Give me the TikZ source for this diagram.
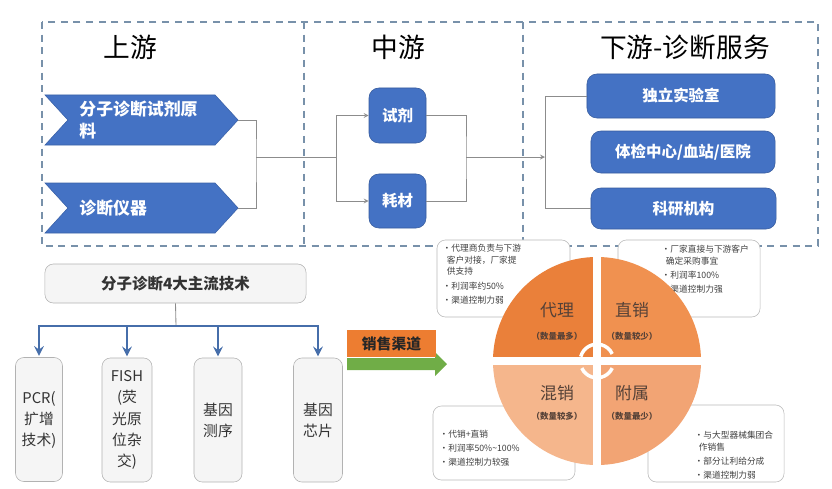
\documentclass[tikz,border=0pt]{standalone}
\usepackage{fontspec}
\setmainfont{Noto Sans CJK SC}
\usetikzlibrary{
    positioning,
    arrows.meta,
    shapes.symbols
}
\definecolor{boxBlue}{RGB}{68, 114, 196}
\definecolor{lineGray}{RGB}{140, 140, 140}
\definecolor{frameBlue}{RGB}{120, 145, 170}
\definecolor{barBlue}{RGB}{70, 110, 170}
\definecolor{salesOrange}{RGB}{237, 125, 49}
\definecolor{goGreen}{RGB}{112, 173, 71}
\definecolor{qTL}{RGB}{234, 128, 58}
\definecolor{qTR}{RGB}{240, 145, 80}
\definecolor{qBL}{RGB}{245, 182, 140}
\definecolor{qBR}{RGB}{242, 164, 116}
\definecolor{textBrown}{RGB}{85, 65, 55}

\tikzset{
    frame/.style={frameBlue, line width=1pt, dash pattern=on 5pt off 4pt},
    conn/.style={lineGray, line width=0.6pt},
    techarrow/.style={barBlue, line width=2pt, ->, shorten >=1pt},
    title/.style={font=\fontsize{19}{22}\selectfont},
    chev/.style={signal, signal to=east, signal from=west, signal pointer angle=95,
        fill=boxBlue, draw=boxBlue!85!black, minimum width=4.825cm, minimum height=1.25cm,
        text width=3.1cm, align=left, text=white, font=\bfseries\fontsize{12}{15}\selectfont},
    bluebox/.style={fill=boxBlue, draw=boxBlue!80!black, rounded corners=7pt,
        text=white, font=\bfseries\fontsize{11}{13}\selectfont},
    graybox/.style={fill=gray!8, draw=gray!60, rounded corners=6pt,
        text=black!80, font=\bfseries\fontsize{11}{13}\selectfont},
    techbox/.style={graybox, minimum height=3.1cm, align=center,
        font=\fontsize{10.5}{15}\selectfont},
    notebox/.style={fill=white, draw=gray!55, rounded corners=6pt},
    note/.style={align=left, inner sep=1pt, text=black!75,
        font=\fontsize{6.2}{8.5}\selectfont},
    qlabel/.style={text=textBrown, font=\fontsize{12}{14}\selectfont},
    qnote/.style={text=textBrown, font=\bfseries\fontsize{6}{7}\selectfont}
}

\begin{document}
\begin{tikzpicture}[x=0.025cm, y=-0.025cm, >=stealth]
    \useasboundingbox (0,0) rectangle (832,488);

    % 虚线框
    \coordinate (F1) at (42,22);
    \coordinate (F2) at (818,246);
    \draw[frame] (F1) rectangle (F2);
    \draw[frame] (304,22) -- (304,246);
    \draw[frame] (523,22) -- (523,246);

    % 标题
    \node[title] (up) at (130,47) {上游};
    \node[title] (mid) at (398,47) {中游};
    \node[title] (down) at (685,47) {下游-诊断服务};

    % 上游
    \node[chev] (raw) at (141.5,120) {分子诊断试剂原\\料};
    \node[chev] (device) at (141.5,208) {诊断仪器};

    % 中游
    \node[bluebox, minimum width=1.425cm, minimum height=1.375cm] (reag) at (397.5,115.5) {试剂};
    \node[bluebox, minimum width=1.425cm, minimum height=1.35cm] (cons) at (397.5,201) {耗材};

    % 下游
    \node[bluebox, minimum width=4.7cm, minimum height=1.1cm] (lab) at (681,96) {独立实验室};
    \node[bluebox, minimum width=4.6cm, minimum height=1.05cm] (hosp) at (683,152) {体检中心/血站/医院};
    \node[bluebox, minimum width=4.625cm, minimum height=1.025cm] (rsch) at (683.5,208.5) {科研机构};

    % 连线
    \coordinate (J1) at (256,157);
    \coordinate (J2) at (336,157);
    \coordinate (J3) at (466,157);
    \coordinate (J4) at (545,157);
    \draw[conn] (raw.east) -| (J1) |- (device.east);
    \draw[conn] (J1) -- (J2);
    \draw[conn, ->] (J2) |- (reag.west);
    \draw[conn, ->] (J2) |- (cons.west);
    \draw[conn] (reag.east) -| (J3) |- (cons.east);
    \draw[conn, ->] (J3) -- (J4);
    \draw[conn] (lab.west) -| (J4) |- (rsch.west);

    % 4大主流技术
    \node[graybox, minimum width=6.525cm, minimum height=0.975cm] (tech) at (175.5,283.5) {分子诊断4大主流技术};
    \node[techbox, minimum width=1.175cm] (pcr) at (39,419.5) {PCR(\\扩增\\技术)};
    \node[techbox, minimum width=1.25cm] (fish) at (127,420) {FISH\\(荧\\光原\\位杂\\交)};
    \node[techbox, minimum width=1.2cm] (seq) at (218,420) {基因\\测序};
    \node[techbox, minimum width=1.225cm] (chip) at (318,420) {基因\\芯片};
    \coordinate (bar) at (176,326);
    \draw[conn] (tech.south) -- (bar);
    \draw[techarrow] (bar) -| (pcr.north);
    \draw[techarrow] (bar) -| (fish.north);
    \draw[techarrow] (bar) -| (seq.north);
    \draw[techarrow] (bar) -| (chip.north);

    % 销售渠道
    \fill[goGreen] (347,358) -- (435,358) -- (435,352) -- (447,364) -- (435,376) -- (435,370) -- (347,370) -- cycle;
    \node[fill=salesOrange, minimum width=2.225cm, minimum height=0.675cm, inner sep=0pt,
        text=black!85, font=\bfseries\fontsize{10.5}{12}\selectfont] (sales) at (391.5,343.5) {销售渠道};

    % 说明框
    \node[notebox, minimum width=3.325cm, minimum height=1.925cm] (tlbox) at (503.5,278.5) {};
    \node[notebox, minimum width=3.55cm, minimum height=1.925cm] (trbox) at (689,278.5) {};
    \node[notebox, minimum width=3.55cm, minimum height=1.85cm] (blbox) at (504,443) {};
    \node[notebox, minimum width=3.4cm, minimum height=1.925cm] (brbox) at (716,443.5) {};
    \node[note, anchor=north west] (tltext) at (441,242)
        {•代理商负责与下游\\\hspace*{3pt}客户对接，厂家提\\\hspace*{3pt}供支持\\[1.5pt]•利润率约50\%\\[1.5pt]•渠道控制力弱};
    \node[note, anchor=north west] (trtext) at (660,243)
        {•厂家直接与下游客户\\\hspace*{3pt}确定采购事宜\\[1.5pt]•利润率100\%\\[1.5pt]•渠道控制力强};
    \node[note, anchor=west] (bltext) at (438,448)
        {•代销+直销\\[1.5pt]•利润率50\%\textasciitilde100\%\\[1.5pt]•渠道控制力较强};
    \node[note, anchor=west] (brtext) at (693,455)
        {•与大型器械集团合\\\hspace*{3pt}作销售\\[1.5pt]•部分让利给分成\\[1.5pt]•渠道控制力弱};

    % 四象限圆
    \coordinate (cen) at (597,361);
    \fill[qTL] (cen) -- ++(180:2.6cm) arc[start angle=180, end angle=90, radius=2.6cm] -- cycle;
    \fill[qTR] (cen) -- ++(90:2.6cm) arc[start angle=90, end angle=0, radius=2.6cm] -- cycle;
    \fill[qBR] (cen) -- ++(0:2.6cm) arc[start angle=0, end angle=-90, radius=2.6cm] -- cycle;
    \fill[qBL] (cen) -- ++(-90:2.6cm) arc[start angle=-90, end angle=-180, radius=2.6cm] -- cycle;
    \draw[white, line width=5pt] ([xshift=-2.7cm]cen) -- ([xshift=2.7cm]cen);
    \draw[white, line width=5pt] ([yshift=-2.7cm]cen) -- ([yshift=2.7cm]cen);
    \draw[white, line width=2.5pt] ([shift={(165:0.42cm)}]cen) arc[start angle=165, end angle=25, radius=0.42cm];
    \draw[white, line width=2.5pt] ([shift={(205:0.42cm)}]cen) arc[start angle=205, end angle=335, radius=0.42cm];

    \node[qlabel] (agent) at (557,310) {代理};
    \node[qnote] (agentn) at (557,336) {（数量最多）};
    \node[qlabel] (direct) at (632,310) {直销};
    \node[qnote] (directn) at (632,336) {（数量较少）};
    \node[qlabel] (mixed) at (557,393) {混销};
    \node[qnote] (mixedn) at (557,416) {（数量较多）};
    \node[qlabel] (affil) at (632,393) {附属};
    \node[qnote] (affiln) at (632,416) {（数量最少）};
\end{tikzpicture}
\end{document}
